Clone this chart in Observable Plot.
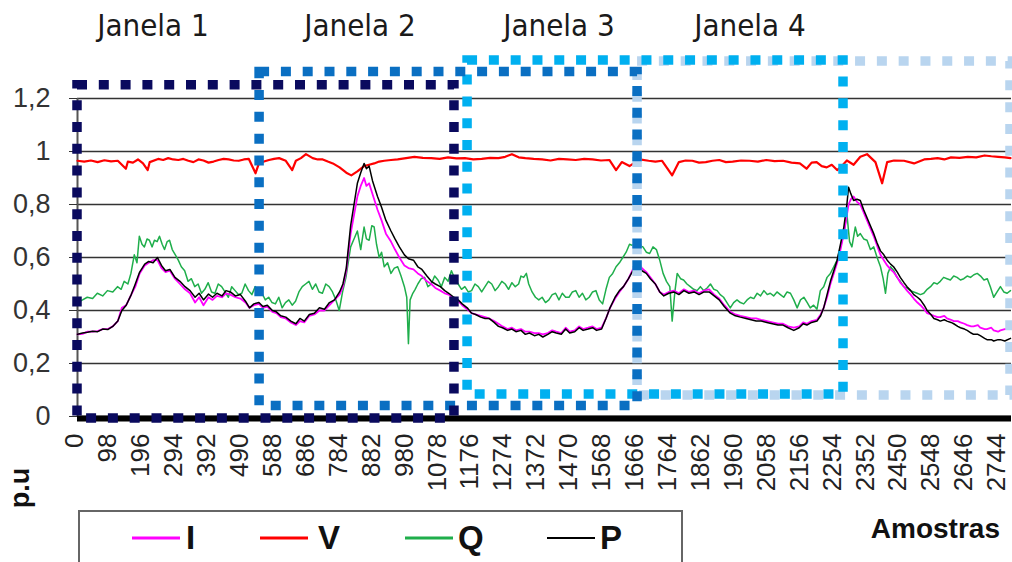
<!DOCTYPE html>
<html><head><meta charset="utf-8">
<script src="https://cdn.jsdelivr.net/npm/d3@7"></script>
<script src="https://cdn.jsdelivr.net/npm/@observablehq/plot@0.6"></script>
<style>
html,body{margin:0;padding:0;background:#fff;}
#wrap{position:relative;width:1012px;height:562px;overflow:hidden;background:#fff;}
#chart{position:absolute;left:0;top:48px;}
#overlay{position:absolute;left:0;top:0;pointer-events:none;}
</style>
</head><body>
<div id="wrap"><div id="chart"></div>
<svg id="overlay" width="1012" height="562" font-family="'Liberation Sans', Arial, sans-serif">
  <g font-family="'Liberation Sans Narrow', 'DejaVu Sans Condensed', sans-serif" font-size="31" fill="#1a1a1a" text-anchor="middle">
    <text x="153" y="36">Janela 1</text>
    <text x="360" y="36">Janela 2</text>
    <text x="559" y="36">Janela 3</text>
    <text x="750" y="36">Janela 4</text>
  </g>
  <text transform="translate(29,488) rotate(-90)" text-anchor="middle" font-weight="bold" font-size="27" fill="#111">p.u</text>
  <text x="1000" y="538" text-anchor="end" font-weight="bold" font-size="28" fill="#111">Amostras</text>
  <path d="M79,570 V511 H682 V570" fill="none" stroke="#666" stroke-width="2"/>
  <g id="legend"></g>
</svg>
</div>
<script>
// ---- data ----
const seriesNames = ["I", "V", "Q", "P"];
const seriesColors = ["#ff00ff", "#ff0000", "#1fae4b", "#000000"];

const xTicks = [0,98,196,294,392,490,588,686,784,882,980,1078,1176,1274,1372,1470,1568,1666,1764,1862,1960,2058,2156,2254,2352,2450,2548,2646,2744];
const xTickLabels = ["0","98","196","294","392","490","588","686","784","882","980","1078","1176","1274","1372","1470","1568","1666","1764","1862","1960","2058","2156","2254","2352","2450","2548","2646","2744"];
const yTicks = [0, 0.2, 0.4, 0.6, 0.8, 1, 1.2];
const yTickLabels = ["0", "0,2", "0,4", "0,6", "0,8", "1", "1,2"];

const windowNames = ["Janela 1", "Janela 2", "Janela 3", "Janela 4"];
const windowStart = [0, 542, 1161, 1667];
const windowEnd = [1122, 1667, 2280, 2777];
const windowLow = [-0.008, 0.04, 0.083, 0.079];
const windowHigh = [1.25, 1.3, 1.343, 1.34];
const windowColors = ["#0a0a5e", "#0a6fc2", "#00b0f0", "#b9d5ef"];

// samples shared by I and P
const samplesIP = [0,15,30,45,60,75,90,105,120,132,145,160,172,185,200,212,225,238,250,262,275,290,305,320,335,350,362,375,390,402,415,430,442,455,470,485,500,512,525,540,552,565,580,592,605,620,635,650,662,675,690,705,720,735,750,765,780,790,800,813,823,833,843,853,860,868,878,893,905,918,933,945,958,973,985,1000,1013,1025,1040,1053,1065,1080,1093,1105,1120,1133,1145,1160,1173,1185,1200,1213,1225,1240,1253,1265,1280,1293,1305,1320,1333,1345,1360,1373,1385,1400,1413,1425,1440,1453,1465,1480,1493,1505,1520,1533,1545,1560,1573,1585,1600,1613,1625,1640,1653,1668,1680,1693,1705,1720,1733,1745,1760,1775,1790,1805,1820,1835,1850,1865,1880,1895,1910,1925,1943,1958,1973,1990,2005,2020,2035,2052,2068,2085,2100,2115,2132,2148,2160,2171,2185,2201,2212,2221,2231,2241,2251,2261,2271,2281,2290,2295,2302,2310,2320,2330,2340,2350,2360,2370,2380,2390,2400,2410,2420,2429,2440,2449,2460,2469,2480,2489,2500,2509,2520,2529,2540,2549,2560,2568,2580,2588,2600,2608,2620,2628,2640,2648,2660,2667,2680,2687,2700,2707,2720,2727,2740,2747,2760,2777];
const valuesP = [.31,.315,.318,.322,.32,.33,.328,.34,.36,.4,.42,.46,.5,.545,.575,.585,.58,.6,.57,.55,.555,.525,.51,.49,.475,.45,.465,.44,.462,.45,.465,.455,.475,.47,.455,.46,.435,.41,.425,.43,.415,.42,.4,.395,.38,.375,.36,.35,.37,.36,.385,.39,.41,.405,.43,.44,.47,.5,.56,.72,.8,.88,.92,.955,.935,.945,.89,.83,.79,.74,.7,.67,.64,.61,.595,.59,.565,.555,.53,.51,.5,.49,.475,.465,.45,.44,.425,.41,.39,.385,.375,.37,.37,.355,.34,.335,.325,.33,.32,.325,.31,.315,.305,.31,.3,.31,.32,.315,.31,.33,.315,.32,.335,.325,.33,.335,.325,.33,.37,.41,.45,.475,.49,.52,.55,.57,.55,.54,.52,.5,.47,.455,.465,.47,.46,.475,.465,.47,.46,.47,.47,.455,.44,.415,.39,.38,.375,.37,.365,.36,.36,.355,.35,.345,.345,.335,.325,.335,.35,.345,.355,.36,.38,.41,.46,.51,.55,.59,.65,.715,.8,.865,.84,.815,.82,.815,.78,.75,.72,.69,.655,.625,.61,.59,.575,.565,.545,.525,.505,.49,.475,.46,.45,.44,.42,.4,.385,.37,.365,.36,.365,.36,.355,.35,.34,.335,.33,.325,.315,.31,.31,.305,.295,.29,.29,.285,.29,.29,.285,.295];
const valuesI = [.31,.312,.32,.32,.322,.33,.33,.34,.36,.41,.42,.46,.49,.54,.57,.58,.59,.59,.56,.545,.55,.52,.5,.48,.465,.43,.45,.42,.45,.44,.455,.45,.465,.46,.45,.445,.43,.41,.42,.425,.41,.415,.395,.39,.375,.37,.355,.345,.36,.355,.38,.385,.4,.4,.42,.44,.46,.49,.55,.69,.76,.83,.87,.9,.87,.88,.84,.78,.74,.69,.66,.63,.6,.57,.56,.555,.54,.53,.51,.5,.485,.475,.465,.46,.445,.435,.42,.405,.39,.385,.38,.375,.37,.36,.35,.34,.33,.335,.325,.33,.32,.32,.315,.315,.31,.315,.325,.32,.315,.335,.32,.325,.34,.33,.335,.34,.33,.335,.37,.41,.445,.47,.49,.52,.555,.58,.56,.545,.525,.5,.47,.46,.47,.475,.465,.48,.47,.475,.465,.475,.48,.46,.445,.42,.395,.385,.38,.375,.37,.37,.365,.36,.355,.35,.35,.34,.335,.34,.355,.35,.36,.365,.385,.41,.45,.5,.54,.58,.63,.69,.76,.8,.82,.83,.81,.8,.77,.74,.71,.68,.645,.61,.59,.57,.555,.545,.525,.505,.49,.475,.46,.445,.43,.42,.405,.39,.385,.38,.375,.375,.38,.37,.365,.36,.36,.355,.35,.345,.34,.34,.345,.335,.33,.33,.335,.325,.32,.325,.33,.33];

const samplesQ = [0,15,29,45,59,75,89,105,119,130,139,150,159,169,177,184,192,199,207,214,222,229,237,244,252,259,267,274,282,289,300,309,319,329,339,349,359,369,379,389,399,409,419,429,439,449,459,469,479,489,499,509,519,529,539,549,559,569,579,589,599,609,619,629,639,649,659,669,679,689,699,709,719,729,739,749,759,769,779,789,799,813,823,833,843,853,860,868,876,883,890,898,905,913,923,933,943,953,963,973,980,985,990,998,1005,1013,1023,1033,1043,1053,1063,1073,1083,1093,1103,1113,1123,1133,1143,1153,1163,1173,1183,1193,1203,1213,1223,1233,1243,1253,1263,1273,1283,1293,1303,1313,1320,1328,1336,1343,1353,1363,1373,1383,1393,1403,1413,1423,1433,1443,1453,1463,1473,1483,1493,1503,1513,1523,1533,1543,1553,1563,1573,1583,1593,1603,1613,1623,1633,1643,1653,1663,1673,1683,1693,1703,1713,1723,1733,1743,1753,1763,1770,1778,1785,1795,1804,1814,1824,1834,1844,1854,1864,1874,1884,1894,1904,1913,1923,1933,1943,1953,1963,1973,1983,1993,2003,2013,2023,2033,2043,2053,2062,2072,2082,2092,2102,2112,2122,2132,2142,2152,2162,2172,2181,2191,2201,2211,2221,2231,2241,2251,2261,2271,2281,2290,2298,2305,2315,2322,2330,2340,2350,2360,2370,2380,2390,2398,2405,2412,2420,2430,2439,2449,2459,2469,2479,2489,2499,2509,2519,2529,2539,2549,2559,2568,2578,2588,2598,2608,2618,2628,2638,2648,2658,2668,2678,2688,2698,2708,2717,2727,2737,2747,2757,2767,2777];
const valuesQ = [.43,.44,.45,.445,.465,.455,.475,.47,.49,.48,.51,.5,.54,.61,.58,.68,.65,.64,.67,.665,.64,.665,.66,.68,.65,.63,.66,.665,.63,.615,.59,.565,.55,.51,.52,.49,.5,.465,.48,.505,.47,.465,.5,.49,.47,.45,.49,.475,.46,.465,.5,.475,.46,.49,.475,.465,.44,.45,.43,.425,.45,.41,.43,.44,.42,.435,.47,.49,.5,.51,.48,.5,.47,.465,.5,.49,.47,.44,.4,.47,.525,.64,.67,.7,.63,.715,.67,.665,.72,.715,.65,.6,.62,.565,.58,.54,.56,.565,.53,.49,.45,.275,.44,.465,.48,.5,.52,.525,.49,.5,.53,.515,.49,.525,.51,.55,.52,.5,.48,.49,.47,.475,.5,.49,.47,.49,.51,.5,.475,.49,.51,.5,.48,.505,.49,.5,.53,.525,.54,.5,.47,.45,.44,.45,.43,.44,.46,.465,.44,.465,.45,.45,.47,.475,.45,.465,.44,.45,.47,.475,.44,.425,.48,.525,.54,.565,.58,.6,.62,.65,.645,.66,.645,.64,.62,.615,.64,.63,.59,.54,.51,.49,.36,.47,.54,.52,.515,.5,.49,.48,.475,.49,.475,.485,.5,.48,.475,.46,.45,.43,.41,.43,.44,.43,.425,.44,.45,.445,.465,.455,.475,.46,.465,.455,.47,.46,.45,.47,.465,.44,.41,.44,.45,.43,.41,.42,.405,.475,.49,.525,.54,.565,.59,.64,.69,.765,.66,.64,.715,.68,.69,.67,.665,.63,.64,.6,.565,.52,.465,.54,.565,.55,.525,.51,.49,.485,.475,.47,.465,.46,.465,.48,.49,.505,.5,.51,.525,.52,.515,.53,.525,.515,.52,.53,.525,.535,.54,.53,.515,.52,.49,.45,.47,.49,.47,.465,.475];

const samplesV = [0,20,40,60,80,100,120,144,150,165,180,195,209,215,240,255,270,285,300,315,330,345,360,375,390,405,420,435,450,465,480,495,510,530,540,555,570,585,600,620,639,650,665,680,700,715,730,745,760,780,800,815,833,853,868,883,898,913,933,953,978,1003,1028,1053,1078,1103,1128,1153,1178,1203,1228,1253,1273,1293,1313,1333,1358,1383,1408,1433,1458,1483,1508,1533,1558,1583,1603,1620,1643,1673,1700,1720,1740,1770,1790,1810,1830,1850,1870,1890,1910,1930,1950,1975,2000,2025,2050,2075,2100,2125,2150,2170,2185,2200,2215,2230,2245,2261,2275,2290,2310,2330,2350,2375,2395,2410,2430,2460,2490,2520,2540,2560,2580,2600,2625,2650,2675,2700,2720,2740,2760,2777];
const valuesV = [.965,.962,.966,.96,.967,.963,.965,.935,.962,.958,.97,.955,.93,.96,.972,.968,.975,.97,.968,.972,.965,.96,.97,.966,.958,.962,.968,.972,.97,.966,.965,.97,.972,.918,.955,.962,.968,.972,.975,.965,.93,.965,.975,.99,.975,.97,.97,.962,.955,.94,.92,.91,.925,.945,.95,.955,.962,.965,.968,.97,.975,.98,.976,.975,.972,.978,.974,.975,.97,.972,.976,.975,.98,.99,.978,.975,.972,.97,.966,.972,.97,.968,.972,.97,.966,.968,.93,.96,.945,.97,.965,.962,.965,.91,.96,.966,.965,.958,.96,.965,.968,.96,.962,.966,.965,.962,.968,.964,.965,.958,.955,.935,.958,.96,.945,.94,.95,.93,.945,.966,.95,.98,.99,.96,.88,.96,.966,.965,.955,.97,.972,.975,.97,.978,.976,.98,.978,.985,.982,.98,.978,.975];

// ---- build tables ----
const toRows = (xs, vs) => xs.map((s, i) => ({s, v: vs[i]}));
const rowsI = toRows(samplesIP, valuesI);
const rowsP = toRows(samplesIP, valuesP);
const rowsQ = toRows(samplesQ, valuesQ);
const rowsV = toRows(samplesV, valuesV);
const windows = windowNames.map((name, i) => ({name, start: windowStart[i], end: windowEnd[i], low: windowLow[i], high: windowHigh[i]}));
const xLab = new Map(xTicks.map((t, i) => [t, xTickLabels[i]]));
const yLab = new Map(yTicks.map((t, i) => [t, yTickLabels[i]]));

const dotted = {fill: "none", strokeWidth: 9.5, strokeDasharray: "10,11.8"};
const windowMarks = [3, 2, 1, 0].map(i => Plot.rect([windows[i]], {x1: "start", x2: "end", y1: "low", y2: "high", stroke: windowColors[i], ...dotted}));

const chart = Plot.plot({
  width: 1012, height: 462,
  marginLeft: 77, marginRight: 1, marginTop: 7.6, marginBottom: 94,
  x: {domain: [0, 2780]},
  y: {domain: [0, 1.36]},
  style: {fontFamily: "'Liberation Sans', Arial, sans-serif", background: "transparent", overflow: "visible"},
  marks: [
    Plot.ruleY(yTicks, {stroke: "#333", strokeWidth: 1.6}),
    Plot.ruleX([0], {y1: 0, y2: 1.2, stroke: "#555", strokeWidth: 2}),
    Plot.axisY({ticks: yTicks, tickFormat: d => yLab.get(d), tickSize: 8, tickPadding: 19, fontSize: 27, color: "#333", label: null}),
    Plot.axisX({ticks: xTicks, tickFormat: d => xLab.get(d), tickRotate: -90, tickSize: 0, tickPadding: 17, fontSize: 26, color: "#222", label: null, dx: -2.5}),
    Plot.line(rowsV, {x: "s", y: "v", stroke: seriesColors[1], strokeWidth: 2.2}),
    Plot.line(rowsQ, {x: "s", y: "v", stroke: seriesColors[2], strokeWidth: 1.5}),
    Plot.line(rowsI, {x: "s", y: "v", stroke: seriesColors[0], strokeWidth: 1.8}),
    Plot.line(rowsP, {x: "s", y: "v", stroke: seriesColors[3], strokeWidth: 1.5}),
    Plot.ruleY([0], {stroke: "black", strokeWidth: 6, dy: 2}),
    ...windowMarks
  ]
});
document.getElementById("chart").appendChild(chart);

// legend
const legendLineX = [132, 260, 405, 547];
const legendTextX = [186, 318, 458, 600];
const ns = "http://www.w3.org/2000/svg";
const lg = document.getElementById("legend");
seriesNames.forEach((name, i) => {
  const l = document.createElementNS(ns, "line");
  l.setAttribute("x1", legendLineX[i]); l.setAttribute("x2", legendLineX[i] + 48);
  l.setAttribute("y1", 538); l.setAttribute("y2", 538);
  l.setAttribute("stroke", seriesColors[i]); l.setAttribute("stroke-width", i === 3 ? 2 : 3);
  lg.appendChild(l);
  const t = document.createElementNS(ns, "text");
  t.setAttribute("x", legendTextX[i]); t.setAttribute("y", 549);
  t.setAttribute("font-weight", "bold"); t.setAttribute("font-size", 33); t.setAttribute("fill", "#111");
  t.textContent = name;
  lg.appendChild(t);
});
</script>
</body></html>
